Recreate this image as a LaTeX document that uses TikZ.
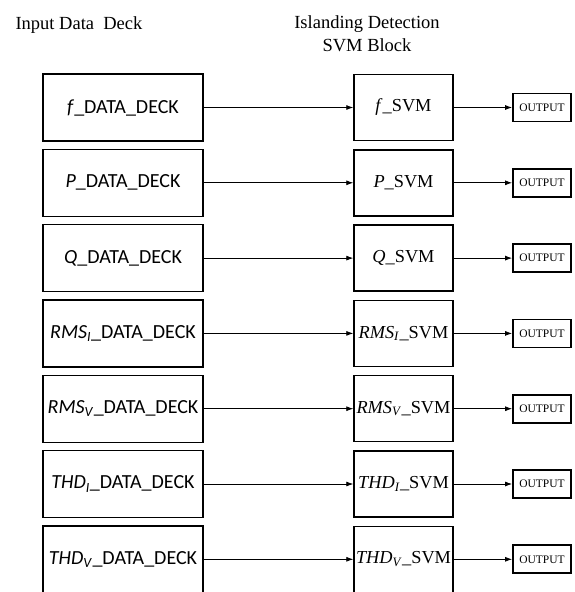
\documentclass[tikz,border=0pt]{standalone}
\usepackage{fontspec}
\setmainfont{Liberation Serif}
\newfontfamily\deckfont{Carlito}
\usetikzlibrary{arrows.meta}
\tikzset{
    deck/.style = {draw, rectangle, line width=1.4pt,
        minimum height=67pt, inner xsep=1pt,
        minimum width=160pt, align=center, font=\deckfont\fontsize{20}{22}\selectfont},
    svm/.style = {draw, rectangle, line width=1.4pt,
        minimum height=66pt, inner xsep=1pt,
        minimum width=99pt, align=center, font=\fontsize{18.3}{22}\selectfont},
    outbox/.style = {draw, rectangle, line width=1.8pt,
        minimum height=28pt,
        minimum width=58pt, inner sep=1pt, font=\fontsize{11.5}{13}\selectfont},
    arrow/.style = {draw, ->, line width=0.8pt},
    title/.style = {align=center, font=\fontsize{18.5}{23}\selectfont}
}

\begin{document}
\begin{tikzpicture}[auto, node distance=75.3pt, >={Latex[length=7pt,width=5pt]}]
    \useasboundingbox (0,0) rectangle (575pt,-592pt);
    \node [title, anchor=west] (intitle) at (12pt,-25pt) {Input Data\ \ Deck};
    \node [title] (svmtitle) at (367pt,-34pt) {Islanding Detection\\SVM Block};
    % input data decks
    \node [deck] (fdeck) at (123pt,-107.5pt) {\textit{f}\_DATA\_DECK};
    \node [deck, below of=fdeck] (pdeck) {\textit{P}\_DATA\_DECK};
    \node [deck, below of=pdeck] (qdeck) {\textit{Q}\_DATA\_DECK};
    \node [deck, below of=qdeck] (rmsideck) {\textit{RMS}\textsubscript{\textit{I}}\_DATA\_DECK};
    \node [deck, below of=rmsideck] (rmsvdeck) {\textit{RMS}\textsubscript{\textit{V}}\_DATA\_DECK};
    \node [deck, below of=rmsvdeck] (thdideck) {\textit{THD}\textsubscript{\textit{I}}\_DATA\_DECK};
    \node [deck, below of=thdideck] (thdvdeck) {\textit{THD}\textsubscript{\textit{V}}\_DATA\_DECK};
    % svm blocks
    \node [svm, right of=fdeck, node distance=280.5pt] (fsvm) {\textit{f}\_SVM};
    \node [svm, right of=pdeck, node distance=280.5pt] (psvm) {\textit{P}\_SVM};
    \node [svm, right of=qdeck, node distance=280.5pt] (qsvm) {\textit{Q}\_SVM};
    \node [svm, right of=rmsideck, node distance=280.5pt] (rmsisvm) {\textit{RMS}\textsubscript{\textit{I}}\_SVM};
    \node [svm, right of=rmsvdeck, node distance=280.5pt] (rmsvsvm) {\textit{RMS}\textsubscript{\textit{V}}\_SVM};
    \node [svm, right of=thdideck, node distance=280.5pt] (thdisvm) {\textit{THD}\textsubscript{\textit{I}}\_SVM};
    \node [svm, right of=thdvdeck, node distance=280.5pt] (thdvsvm) {\textit{THD}\textsubscript{\textit{V}}\_SVM};
    % outputs
    \node [outbox, right of=fsvm, node distance=138.5pt] (fout) {OUTPUT};
    \node [outbox, right of=psvm, node distance=138.5pt] (pout) {OUTPUT};
    \node [outbox, right of=qsvm, node distance=138.5pt] (qout) {OUTPUT};
    \node [outbox, right of=rmsisvm, node distance=138.5pt] (rmsiout) {OUTPUT};
    \node [outbox, right of=rmsvsvm, node distance=138.5pt] (rmsvout) {OUTPUT};
    \node [outbox, right of=thdisvm, node distance=138.5pt] (thdiout) {OUTPUT};
    \node [outbox, right of=thdvsvm, node distance=138.5pt] (thdvout) {OUTPUT};
    % connections
    \draw [arrow] (fdeck) -- (fsvm);
    \draw [arrow] (pdeck) -- (psvm);
    \draw [arrow] (qdeck) -- (qsvm);
    \draw [arrow] (rmsideck) -- (rmsisvm);
    \draw [arrow] (rmsvdeck) -- (rmsvsvm);
    \draw [arrow] (thdideck) -- (thdisvm);
    \draw [arrow] (thdvdeck) -- (thdvsvm);
    \draw [arrow] (fsvm) -- (fout);
    \draw [arrow] (psvm) -- (pout);
    \draw [arrow] (qsvm) -- (qout);
    \draw [arrow] (rmsisvm) -- (rmsiout);
    \draw [arrow] (rmsvsvm) -- (rmsvout);
    \draw [arrow] (thdisvm) -- (thdiout);
    \draw [arrow] (thdvsvm) -- (thdvout);
\end{tikzpicture}
\end{document}
